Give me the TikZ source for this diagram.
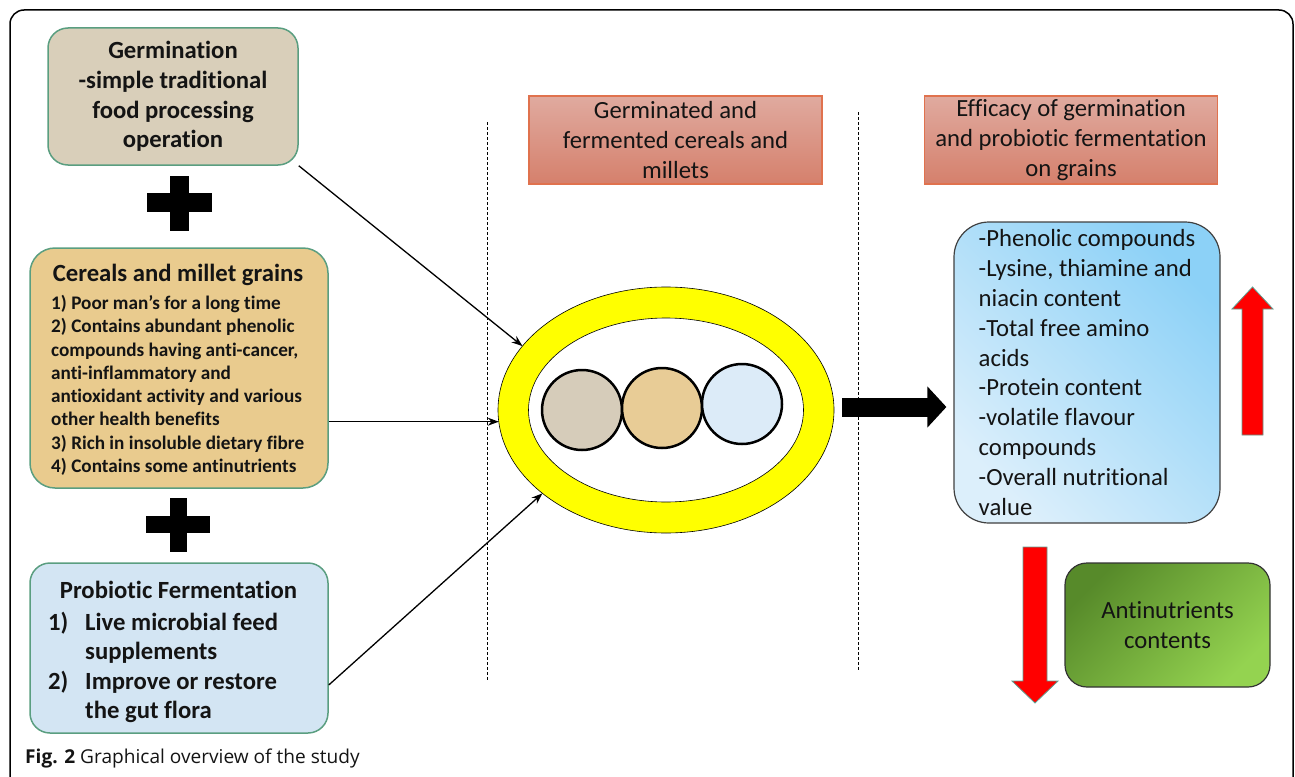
\documentclass[tikz,border=0pt]{standalone}
\usepackage{fontspec}
\setmainfont{Carlito}[Ligatures=NoCommon]
\newfontfamily\capfont{Open Sans}
\usetikzlibrary{shapes.geometric,arrows.meta}

\definecolor{germfill}{HTML}{D9CFBA}
\definecolor{cerfill}{HTML}{E9CB8E}
\definecolor{probfill}{HTML}{D3E5F3}
\definecolor{boxline}{HTML}{5A9E80}
\definecolor{headtop}{HTML}{E0AA9F}
\definecolor{headbot}{HTML}{D5806C}
\definecolor{headline}{HTML}{E0724E}
\definecolor{bluedark}{HTML}{8CD1F7}
\definecolor{bluelight}{HTML}{DCEFFB}
\definecolor{greendark}{HTML}{578A2A}
\definecolor{greenlight}{HTML}{94D350}
\definecolor{arrowedge}{HTML}{5F9E90}
\definecolor{ringyellow}{HTML}{FFFF00}
\definecolor{grainone}{HTML}{D6CCBA}
\definecolor{graintwo}{HTML}{E8CC96}
\definecolor{grainthree}{HTML}{DCEBF8}
\definecolor{txt}{HTML}{141414}

\begin{document}
\begin{tikzpicture}[x=1pt,y=-1pt, every node/.style={text=txt},
  inbox/.style={rounded corners=20pt, draw=boxline, line width=1.5pt, inner sep=0pt},
  headbox/.style={draw=headline, line width=1.3pt, top color=headtop, bottom color=headbot,
    minimum width=293pt, minimum height=88pt, align=center, inner sep=0pt,
    font=\fontsize{24.7}{29.7}\selectfont},
  link/.style={line width=1.3pt, -{Stealth[length=11pt,width=8pt]}},
  grain/.style={circle, draw=black, line width=2.5pt, minimum size=80pt, inner sep=0pt},
  boldtxt/.style={font=\bfseries\fontsize{24.7}{29.7}\selectfont, inner sep=0pt},
  plusbar/.style={fill=black},
  redarrow/.style={fill=red, draw=arrowedge, line width=0.8pt},
  divider/.style={line width=0.8pt, dash pattern=on 3pt off 2pt}
]
\useasboundingbox (0,0) rectangle (1295,776);
\begin{scope}
\clip (0,0) rectangle (1295,776);
\draw[line width=1.5pt, rounded corners=14pt] (10,10) rectangle (1293,800);
\end{scope}

% left column
\node[inbox, fill=germfill, minimum width=250pt, minimum height=137pt, align=center,
  font=\bfseries\fontsize{24.7}{29.7}\selectfont] (germ) at (173,96.5)
  {Germination\\-simple traditional\\food processing\\operation};

\fill[plusbar] (147,193) rectangle (212,212);
\fill[plusbar] (170,176) rectangle (189,231);

\node[inbox, rounded corners=25pt, fill=cerfill, minimum width=298pt, minimum height=240pt] (cer) at (179,368) {};
\node[boldtxt] (certitle) at (178,275) {Cereals and millet grains};
\node[inner sep=0pt, anchor=north west, align=left, font=\bfseries\fontsize{19.2}{23.3}\selectfont] (cerlist) at (51,295)
  {1) Poor man’s for a long time\\
   2) Contains abundant phenolic\\
   compounds having anti-cancer,\\
   anti-inflammatory and\\
   antioxidant activity and various\\
   other health benefits\\
   3) Rich in insoluble dietary fibre\\
   4) Contains some antinutrients};

\fill[plusbar] (146,516) rectangle (210,533);
\fill[plusbar] (170,498) rectangle (187,552);

\node[inbox, fill=probfill, minimum width=298pt, minimum height=170pt] (prob) at (179,648) {};
\node[boldtxt] (probtitle) at (178.5,590) {Probiotic Fermentation};
\node[inner sep=0pt, anchor=north west, align=left, font=\bfseries\fontsize{24.7}{29.3}\selectfont] (problist) at (48,612)
  {\makebox[37pt][l]{1)}Live microbial feed\\
   \hspace*{37pt}supplements\\
   \makebox[37pt][l]{2)}Improve or restore\\
   \hspace*{37pt}the gut flora};

% dividers
\draw[divider] (487,122) -- (487,680);
\draw[divider] (858,112) -- (858,670);

% headers
\node[headbox] (h1) at (675.5,140) {Germinated and\\fermented cereals and\\millets};
\node[headbox] (h2) at (1071,140) {Efficacy of germination\\and probiotic fermentation\\on grains};

% ellipse with grains
\node[ellipse, draw=black, line width=0.6pt, fill=ringyellow, minimum width=336pt, minimum height=246pt,
  inner sep=0pt, outer sep=0pt] (ell) at (666,410) {};
\node[ellipse, draw=black, line width=0.6pt, fill=white, minimum width=275pt, minimum height=184pt,
  inner sep=0pt] (inell) at (666,410) {};
\node[grain, fill=grainone] (g1) at (582,410) {};
\node[grain, fill=graintwo] (g2) at (662,408) {};
\node[grain, fill=grainthree] (g3) at (742,404) {};

% connectors into ellipse
\draw[link] (germ.south east) -- (ell.156);
\draw[link] (cer.east |- ell.184) -- (ell.184);
\draw[link] ([yshift=-37pt]prob.east) -- (ell.214);

% right column
\node[draw=black!75, line width=1.2pt, rounded corners=35pt, top color=bluedark, bottom color=bluelight,
  shading angle=-45, minimum width=266pt, minimum height=301pt, align=left, inner sep=0pt,
  font=\fontsize{24.7}{29.8}\selectfont] (blue) at (1087,372.5)
  {-Phenolic compounds\\-Lysine, thiamine and\\niacin content\\-Total free amino\\acids\\-Protein content\\-volatile flavour\\compounds\\-Overall nutritional\\value};

\draw[line width=19pt, -{Triangle[length=19pt,width=40pt]}] ([xshift=8pt,yshift=3pt]ell.east) -- ([xshift=-7pt,yshift=3pt]blue.west |- ell.east);

\filldraw[redarrow] (1242,435) -- (1242,309) -- (1232,309) -- (1252.5,287) -- (1273,309) -- (1263,309) -- (1263,435) -- cycle;
\filldraw[redarrow] (1023,547) -- (1047,547) -- (1047,681) -- (1058,681) -- (1035,703) -- (1012,681) -- (1023,681) -- cycle;

\node[draw=black!80, line width=1.2pt, rounded corners=22pt, top color=greendark, bottom color=greenlight,
  shading angle=45, minimum width=205pt, minimum height=124pt, align=center, inner sep=0pt,
  font=\fontsize{24.7}{29.8}\selectfont] (green) at (1167.5,625) {Antinutrients\\contents};

% caption
\node[anchor=base west, inner sep=0pt, font=\capfont\fontsize{19.1}{22}\selectfont] (cap) at (25,763)
  {\textbf{Fig. 2} Graphical overview of the study};
\end{tikzpicture}
\end{document}
